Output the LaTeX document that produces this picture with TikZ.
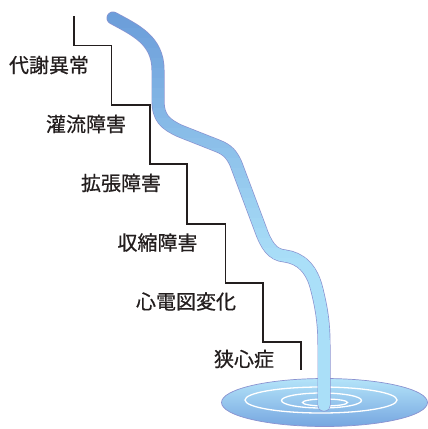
\documentclass[tikz,border=0pt]{standalone}
\usepackage{fontspec}
\newfontfamily\jpfont[FakeBold=0.6]{Noto Sans CJK JP}
\definecolor{textcol}{RGB}{35,30,30}
\definecolor{linecol}{RGB}{35,30,30}
\definecolor{tubetop}{RGB}{108,158,218}
\definecolor{tubebot}{RGB}{170,223,248}
\definecolor{tubeedge}{RGB}{138,146,208}
\definecolor{poollight}{RGB}{180,228,249}
\definecolor{poolmid}{RGB}{163,214,245}
\definecolor{pooldark}{RGB}{118,166,224}
% centre line of the stream, from the top down into the pool
\newcommand\streampath{(113,18) .. controls (135,30) and (158,40) .. (158,70)
  -- (158,100) .. controls (158,118) and (165,124) .. (180,131)
  -- (218,146) .. controls (228,150) and (232,155) .. (236,164)
  -- (260,228) .. controls (266,245) and (272,255) .. (285,256)
  .. controls (300,258) and (312,268) .. (317,290)
  .. controls (322,310) and (324,325) .. (324,345) -- (324,405)}
\begin{document}
\begin{tikzpicture}[x=1pt,y=-1pt,
  termtext/.style={font=\jpfont\fontsize{20}{20}\selectfont, text=textcol, inner sep=0pt},
  stair/.style={draw=linecol, line width=1.5pt, line join=miter},
  ring/.style={draw=white, line width=1.3pt}]
\useasboundingbox (0,0) rectangle (428,429);

% pool with ripples
\draw[draw=tubeedge, line width=0.7pt, top color=poollight, middle color=poolmid, bottom color=pooldark]
  (324.5,402.5) ellipse (103pt and 24pt);
\draw[ring] (321,400) ellipse (76pt and 13pt);
\draw[ring] (321.5,400.5) ellipse (40pt and 7.5pt);
\draw[ring] (325,402.5) ellipse (22.5pt and 3.5pt);

% stream: outline, then a vertical colour gradient in thin bands
\draw[tubeedge, line width=13pt, line cap=round, line join=round] \streampath;
\foreach \i in {0,...,40}{
  \pgfmathsetmacro\ya{8+\i*10}
  \pgfmathsetmacro\yb{\ya+10.6}
  \pgfmathsetmacro\p{min(100,max(0,(\ya+5-20)/240*100))}
  \begin{scope}
    \clip (0,\ya) rectangle (428,\yb);
    \draw[color=tubebot!\p!tubetop, line width=11.6pt, line cap=round, line join=round] \streampath;
  \end{scope}
}

% staircase
\draw[stair] (74,16) -- (74,45.5) -- (111.5,45.5) -- (111.5,105) -- (150,105)
  -- (150,164) -- (187,164) -- (187,224) -- (225.5,224) -- (225.5,283)
  -- (263,283) -- (263,342) -- (301,342) -- (301,370);

% stages
\node[termtext] (t1) at (49,65) {代謝異常};
\node[termtext] (t2) at (86,124) {灌流障害};
\node[termtext] (t3) at (121,183) {拡張障害};
\node[termtext] (t4) at (157.5,242.5) {収縮障害};
\node[termtext] (t5) at (186,301.5) {心電図変化};
\node[termtext] (t6) at (244,359) {狭心症};
\end{tikzpicture}
\end{document}
